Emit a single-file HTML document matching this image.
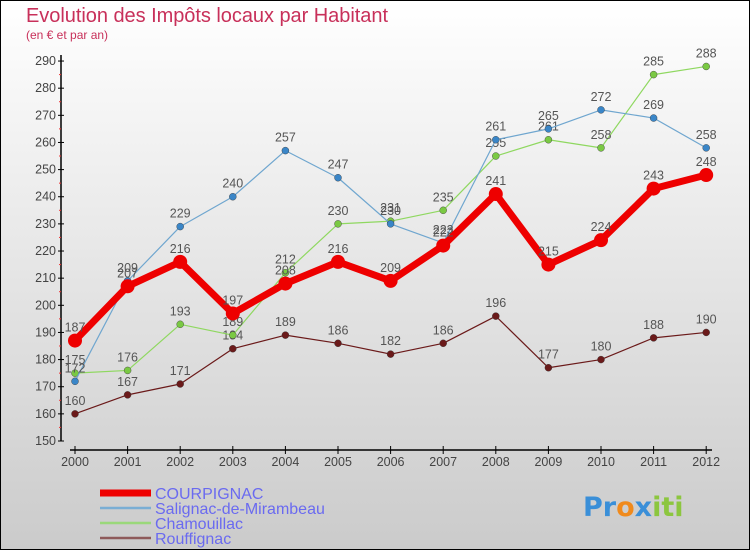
<!DOCTYPE html>
<html><head><meta charset="utf-8"><style>
html,body{margin:0;padding:0}
body{width:750px;height:550px;overflow:hidden;font-family:"Liberation Sans","DejaVu Sans",sans-serif}
#wrap{position:relative;width:748px;height:548px;border:1px solid #000;background:linear-gradient(#ffffff,#cbcbcb)}
</style></head><body>
<div id="wrap">
<svg id="chart" width="748" height="548" viewBox="1 1 748 548" style="position:absolute;left:0;top:0">
<text x="26" y="22" font-size="20" fill="#c8305a" font-family="Liberation Sans,sans-serif" textLength="362">Evolution des Impôts locaux par Habitant</text>
<text x="26" y="39" font-size="12" fill="#c8305a">(en € et par an)</text>
<g id="axes"></g>
<g id="series"></g>
<g id="legend"></g>
<text x="583" y="516" font-size="27" font-weight="bold" font-family="DejaVu Sans,sans-serif"><tspan fill="#3a8fd8">Pr</tspan><tspan fill="#f08a1c">o</tspan><tspan fill="#3a8fd8">x</tspan><tspan fill="#8cc63f">iti</tspan></text>
</svg>
</div>
<script>
const years = [2000,2001,2002,2003,2004,2005,2006,2007,2008,2009,2010,2011,2012];
const yTicks = [150,160,170,180,190,200,210,220,230,240,250,260,270,280,290];
const courpignac = [187,207,216,197,208,216,209,222,241,215,224,243,248];
const salignac = [172,209,229,240,257,247,230,223,261,265,272,269,258];
const chamouillac = [175,176,193,189,212,230,231,235,255,261,258,285,288];
const rouffignac = [160,167,171,184,189,186,182,186,196,177,180,188,190];
const seriesNames = ["COURPIGNAC","Salignac-de-Mirambeau","Chamouillac","Rouffignac"];

const NS="http://www.w3.org/2000/svg";
const xS = i => 75 + i*52.6;
const yS = v => 441 - (v-150)*2.714;
function mk(tag, attrs, parent){const e=document.createElementNS(NS,tag);for(const k in attrs)e.setAttribute(k,attrs[k]);parent.appendChild(e);return e;}
const axes=document.getElementById('axes');
const ax=mk('line',{x1:61,y1:55,x2:61,y2:441,stroke:'#000','stroke-width':1.5},axes);


yTicks.forEach(v=>{
  const y=yS(v);
  mk('line',{x1:58,y1:y,x2:64,y2:y,stroke:'#000'},axes);
  if(v<290) mk('line',{x1:59,y1:y-13.6,x2:61,y2:y-13.6,stroke:'#e33'},axes);
  const t=mk('text',{x:56,y:y+4,'text-anchor':'end','font-size':12.5,fill:'#444'},axes);
  t.textContent=v;
  
  
});
const xa=mk('line',{x1:70,y1:450,x2:712,y2:450,stroke:'#000','stroke-width':1.5},axes);


years.forEach((yr,i)=>{
  mk('line',{x1:xS(i),y1:446,x2:xS(i),y2:454,stroke:'#000'},axes);
  const t=mk('text',{x:xS(i),y:466,'text-anchor':'middle','font-size':12.5,fill:'#444'},axes);
  t.textContent=yr;
  
  
});
const sg=document.getElementById('series');
const defs=[
 {d:rouffignac,c:'#6b1a1a',w:1.2,r:3.5,name:'rouffignac'},
 {d:chamouillac,c:'#8fd860',w:1.2,r:3.5,name:'chamouillac',dot:'#7ac943'},
 {d:salignac,c:'#6fa6cf',w:1.2,r:3.5,name:'salignac',dot:'#3a86c8'},
 {d:courpignac,c:'#ee0000',w:7,r:7,name:'courpignac'}
];
defs.forEach(s=>{
  const g=mk('g',{},sg);
  
  
  const p=mk('polyline',{points:s.d.map((v,i)=>xS(i)+','+yS(v)).join(' '),fill:'none',stroke:s.c,'stroke-width':s.w,'stroke-linejoin':'round'},g);
  
  
  s.d.forEach((v,i)=>{
    const c=mk('circle',{cx:xS(i),cy:yS(v),r:s.r,fill:s.dot||s.c,stroke:s.w>2?'none':'#333','stroke-width':0.4},g);
    
    
    const t=mk('text',{x:xS(i),y:yS(v)-9,'text-anchor':'middle','font-size':12.5,fill:'#555'},g);
    t.textContent=v;
    
    
  });
});
const lg=document.getElementById('legend');
const lc=['#ee0000','#7aaed4','#9ad87a','#8e5a5a'];
const lw=[7,2.5,2.5,2.5];
seriesNames.forEach((n,i)=>{
  const y=493+i*15;
  const l=mk('line',{x1:100,y1:y,x2:151,y2:y,stroke:lc[i],'stroke-width':lw[i]},lg);
  
  
  const t=mk('text',{x:155,y:y+6,'font-size':16,fill:'#6a6af0'},lg);
  t.textContent=n;
  
  
});
</script>
</body></html>
